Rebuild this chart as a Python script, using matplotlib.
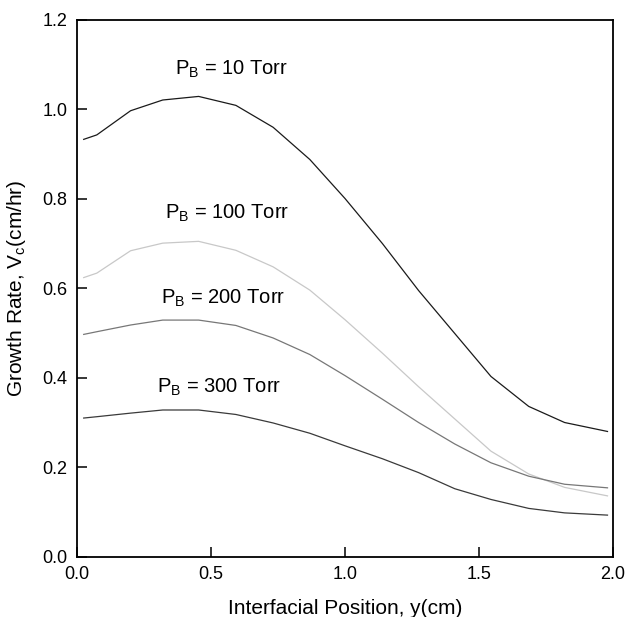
import numpy as np
import matplotlib.pyplot as plt

plt.rcParams['font.family'] = 'Liberation Sans'
plt.rcParams['mathtext.fontset'] = 'custom'
plt.rcParams['mathtext.rm'] = 'Liberation Sans'
plt.rcParams['mathtext.it'] = 'Liberation Sans'

# interfacial position (cm)
y_pos = [0.025, 0.074, 0.2, 0.32, 0.454, 0.593, 0.732, 0.869, 1.0,
         1.14, 1.275, 1.41, 1.545, 1.686, 1.82, 1.98]

# growth rate (cm/hr) for each background pressure
v_10 = [0.933, 0.943, 0.997, 1.021, 1.029, 1.009, 0.960, 0.888, 0.801,
        0.700, 0.595, 0.499, 0.403, 0.336, 0.300, 0.280]
v_100 = [0.624, 0.634, 0.684, 0.701, 0.705, 0.685, 0.648, 0.596, 0.530,
         0.455, 0.380, 0.308, 0.236, 0.185, 0.155, 0.136]
v_200 = [0.497, 0.503, 0.518, 0.529, 0.529, 0.517, 0.489, 0.452, 0.405,
         0.352, 0.300, 0.252, 0.210, 0.180, 0.162, 0.154]
v_300 = [0.310, 0.313, 0.321, 0.328, 0.328, 0.318, 0.299, 0.276, 0.248,
         0.219, 0.188, 0.152, 0.128, 0.108, 0.098, 0.093]

labels = ['10', '100', '200', '300']
series = [v_10, v_100, v_200, v_300]
colors = ['#1a1a1a', '#c8c8c8', '#777777', '#3a3a3a']
label_pos = [(0.578, 1.09), (0.56, 0.768), (0.545, 0.578), (0.53, 0.378)]

fig = plt.figure(figsize=(6.26, 6.17), dpi=100)
ax = fig.add_axes([0.123, 0.0977, 0.856, 0.870])

for vals, col in zip(series, colors):
    ax.plot(y_pos, vals, color=col, lw=0.9)

for lab, (tx, ty) in zip(labels, label_pos):
    ax.text(tx, ty, r'P$_\mathregular{B}$ = ' + lab + ' Torr',
            ha='center', va='center', fontsize=14.5)

ax.set_xlim(0, 2.0)
ax.set_ylim(0, 1.2)
ax.set_xticks(np.arange(0, 2.01, 0.5))
ax.set_yticks(np.arange(0, 1.21, 0.2))
ax.set_xticklabels(['0.0', '0.5', '1.0', '1.5', '2.0'])
ax.set_yticklabels(['0.0', '0.2', '0.4', '0.6', '0.8', '1.0', '1.2'])
ax.tick_params(direction='in', length=7, width=1.1, labelsize=13, pad=7)
for sp in ax.spines.values():
    sp.set_linewidth(1.3)

ax.set_xlabel('Interfacial Position, y(cm)', fontsize=15, labelpad=11)
ax.set_ylabel(r'Growth Rate, V$_\mathregular{c}$(cm/hr)', fontsize=15, labelpad=10)

fig.savefig('out.png', dpi=100)
